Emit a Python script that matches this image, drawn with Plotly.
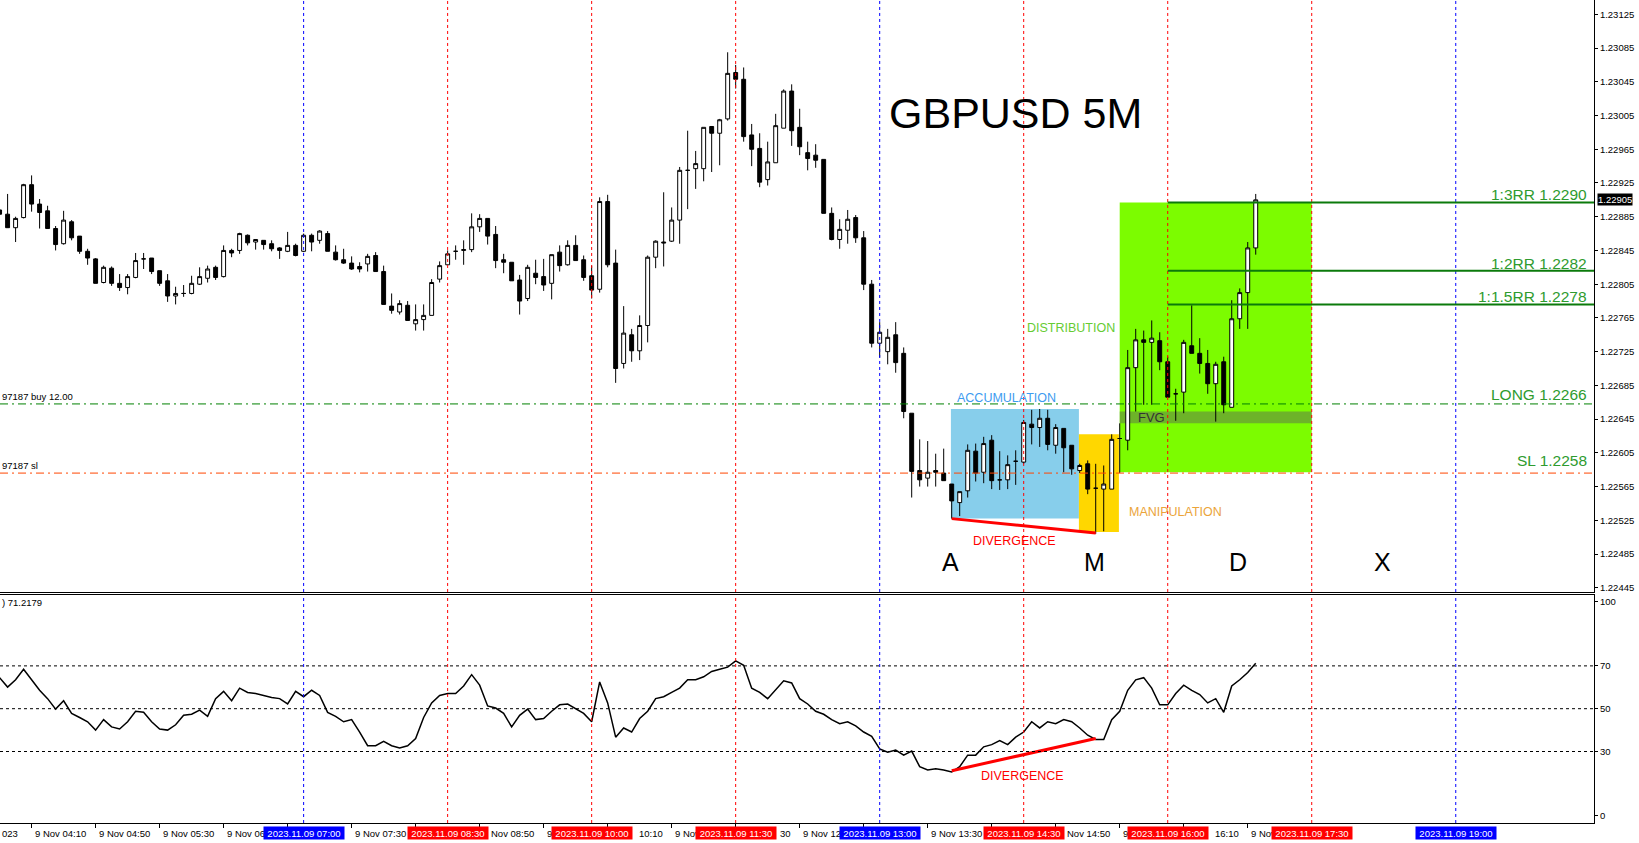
import plotly.graph_objects as go
import pandas as pd

# ---------------- data (GBPUSD M5, 9 Nov 2023, 03:50 .. 16:55) ----------------
opens = [
    1.22893, 1.22888, 1.22872, 1.22884, 1.22923, 1.22900, 1.22892, 1.22871, 1.22853, 1.22879,
    1.22862, 1.22844, 1.22835, 1.22807, 1.22824, 1.22806, 1.22801, 1.22813, 1.22835, 1.22836,
    1.22821, 1.22809, 1.22791, 1.22794, 1.22794, 1.22805, 1.22812, 1.22825, 1.22814, 1.22845,
    1.22845, 1.22863, 1.22855, 1.22857, 1.22853, 1.22848, 1.22844, 1.22851,
    1.22844, 1.22863, 1.22857, 1.22865, 1.22843, 1.22834, 1.22830, 1.22826, 1.22829, 1.22839,
    1.22820, 1.22779, 1.22772, 1.22780, 1.22758, 1.22763, 1.22768, 1.22811, 1.22828, 1.22844,
    1.22845, 1.22846, 1.22873, 1.22883, 1.22864, 1.22834, 1.22831, 1.22810, 1.22788, 1.22818,
    1.22814, 1.22806, 1.22843, 1.22828, 1.22851, 1.22834, 1.22815, 1.22799, 1.22903, 1.22830,
    1.22711, 1.22745, 1.22726, 1.22756, 1.22837, 1.22855, 1.22856, 1.22881, 1.22940, 1.22942,
    1.22942, 1.22992, 1.22984, 1.23001, 1.23056, 1.23048, 1.22982, 1.22966, 1.22929, 1.22949,
    1.22990, 1.23034, 1.22991, 1.22961, 1.22958, 1.22953, 1.22889, 1.22858, 1.22869, 1.22884,
    1.22860, 1.22805, 1.22735, 1.22725, 1.22745, 1.22723, 1.22652, 1.22584, 1.22575, 1.22584,
    1.22581, 1.22568, 1.22546, 1.22560, 1.22607, 1.22582, 1.22620, 1.22573, 1.22573, 1.22595,
    1.22594, 1.22639, 1.22635, 1.22646, 1.22614, 1.22634, 1.22614, 1.22584, 1.22592, 1.22563,
    1.22562, 1.22562, 1.22622, 1.22620, 1.22706, 1.22739, 1.22736, 1.22738, 1.22713, 1.22675,
    1.22677, 1.22732, 1.22723, 1.22711, 1.22687, 1.22713, 1.22659, 1.22764, 1.22795, 1.22848,
]
highs = [
    1.22894, 1.22912, 1.22885, 1.22924, 1.22934, 1.22906, 1.22898, 1.22874, 1.22892, 1.22881,
    1.22862, 1.22847, 1.22836, 1.22827, 1.22826, 1.22817, 1.22817, 1.22842, 1.22842, 1.22836,
    1.22821, 1.22817, 1.22802, 1.22804, 1.22815, 1.22825, 1.22827, 1.22827, 1.22851, 1.22847,
    1.22866, 1.22864, 1.22858, 1.22857, 1.22857, 1.22849, 1.22867, 1.22853,
    1.22865, 1.22865, 1.22869, 1.22868, 1.22851, 1.22847, 1.22838, 1.22831, 1.22841, 1.22843,
    1.22827, 1.22794, 1.22786, 1.22785, 1.22781, 1.22781, 1.22811, 1.22832, 1.22845, 1.22851,
    1.22857, 1.22889, 1.22888, 1.22883, 1.22874, 1.22841, 1.22831, 1.22816, 1.22828, 1.22834,
    1.22835, 1.22840, 1.22851, 1.22857, 1.22863, 1.22839, 1.22827, 1.22908, 1.22911, 1.22846,
    1.22779, 1.22752, 1.22768, 1.22839, 1.22857, 1.22914, 1.22896, 1.22944, 1.22987, 1.22963,
    1.22991, 1.22992, 1.23001, 1.23080, 1.23065, 1.23062, 1.22995, 1.22984, 1.22974, 1.23007,
    1.23036, 1.23042, 1.23013, 1.22974, 1.22971, 1.22953, 1.22896, 1.22882, 1.22893, 1.22887,
    1.22868, 1.22810, 1.22760, 1.22752, 1.22760, 1.22730, 1.22652, 1.22621, 1.22619, 1.22604,
    1.22610, 1.22568, 1.22559, 1.22615, 1.22616, 1.22624, 1.22626, 1.22607, 1.22602, 1.22608,
    1.22644, 1.22656, 1.22657, 1.22656, 1.22639, 1.22634, 1.22614, 1.22592, 1.22596, 1.22592,
    1.22590, 1.22627, 1.22640, 1.22727, 1.22752, 1.22750, 1.22762, 1.22748, 1.22719, 1.22681,
    1.22739, 1.22780, 1.22741, 1.22727, 1.22713, 1.22719, 1.22786, 1.22800, 1.22855, 1.22912,
]
lows = [
    1.22887, 1.22872, 1.22855, 1.22883, 1.22891, 1.22871, 1.22871, 1.22845, 1.22852, 1.22857,
    1.22841, 1.22828, 1.22806, 1.22806, 1.22803, 1.22797, 1.22793, 1.22812, 1.22823, 1.22817,
    1.22803, 1.22784, 1.22781, 1.22790, 1.22793, 1.22804, 1.22807, 1.22810, 1.22813, 1.22837,
    1.22841, 1.22851, 1.22846, 1.22846, 1.22844, 1.22835, 1.22843, 1.22838,
    1.22843, 1.22844, 1.22853, 1.22844, 1.22833, 1.22829, 1.22822, 1.22819, 1.22820, 1.22820,
    1.22781, 1.22770, 1.22769, 1.22762, 1.22750, 1.22750, 1.22768, 1.22807, 1.22828, 1.22834,
    1.22828, 1.22843, 1.22867, 1.22852, 1.22824, 1.22818, 1.22809, 1.22769, 1.22785, 1.22805,
    1.22797, 1.22787, 1.22820, 1.22827, 1.22833, 1.22809, 1.22788, 1.22795, 1.22825, 1.22688,
    1.22705, 1.22713, 1.22715, 1.22736, 1.22824, 1.22826, 1.22855, 1.22853, 1.22894, 1.22918,
    1.22927, 1.22938, 1.22946, 1.22999, 1.23037, 1.22974, 1.22945, 1.22920, 1.22922, 1.22949,
    1.22990, 1.22969, 1.22958, 1.22940, 1.22943, 1.22889, 1.22857, 1.22847, 1.22853, 1.22854,
    1.22798, 1.22730, 1.22718, 1.22710, 1.22700, 1.22646, 1.22552, 1.22565, 1.22565, 1.22565,
    1.22572, 1.22527, 1.22530, 1.22552, 1.22571, 1.22569, 1.22562, 1.22561, 1.22562, 1.22567,
    1.22592, 1.22615, 1.22612, 1.22608, 1.22604, 1.22582, 1.22579, 1.22581, 1.22556, 1.22509,
    1.22512, 1.22562, 1.22581, 1.22608, 1.22654, 1.22662, 1.22662, 1.22703, 1.22671, 1.22643,
    1.22652, 1.22723, 1.22699, 1.22675, 1.22642, 1.22652, 1.22659, 1.22752, 1.22752, 1.22840,
]
closes = [
    1.22888, 1.22872, 1.22883, 1.22923, 1.22900, 1.22890, 1.22871, 1.22852, 1.22881, 1.22860,
    1.22844, 1.22836, 1.22806, 1.22825, 1.22806, 1.22801, 1.22814, 1.22833, 1.22835, 1.22820,
    1.22806, 1.22791, 1.22794, 1.22794, 1.22806, 1.22814, 1.22823, 1.22813, 1.22845, 1.22842,
    1.22865, 1.22854, 1.22858, 1.22852, 1.22847, 1.22845, 1.22851, 1.22839,
    1.22863, 1.22855, 1.22868, 1.22844, 1.22834, 1.22830, 1.22823, 1.22823, 1.22838, 1.22820,
    1.22781, 1.22774, 1.22782, 1.22762, 1.22763, 1.22768, 1.22807, 1.22827, 1.22841, 1.22844,
    1.22846, 1.22873, 1.22883, 1.22862, 1.22833, 1.22831, 1.22809, 1.22785, 1.22825, 1.22813,
    1.22804, 1.22840, 1.22827, 1.22851, 1.22833, 1.22813, 1.22798, 1.22903, 1.22828, 1.22705,
    1.22747, 1.22726, 1.22756, 1.22837, 1.22856, 1.22854, 1.22881, 1.22940, 1.22940, 1.22948,
    1.22991, 1.22984, 1.23000, 1.23055, 1.23048, 1.22980, 1.22965, 1.22926, 1.22950, 1.22993,
    1.23034, 1.22987, 1.22968, 1.22954, 1.22952, 1.22889, 1.22858, 1.22870, 1.22882, 1.22860,
    1.22805, 1.22735, 1.22748, 1.22742, 1.22712, 1.22654, 1.22583, 1.22573, 1.22582, 1.22582,
    1.22572, 1.22548, 1.22559, 1.22608, 1.22581, 1.22616, 1.22572, 1.22573, 1.22591, 1.22595,
    1.22641, 1.22635, 1.22646, 1.22615, 1.22635, 1.22611, 1.22586, 1.22590, 1.22562, 1.22563,
    1.22568, 1.22621, 1.22622, 1.22706, 1.22739, 1.22736, 1.22741, 1.22713, 1.22671, 1.22675,
    1.22736, 1.22723, 1.22711, 1.22687, 1.22710, 1.22662, 1.22764, 1.22795, 1.22848, 1.22905,
]
rsi_values = [
    64.5, 60.1, 63.5, 68.4, 63.5, 58.6, 54.7, 49.8, 53.7, 47.8,
    45.9, 43.9, 40.0, 44.9, 41.5, 40.5, 43.9, 48.8, 48.3, 43.9,
    40.5, 40.0, 42.5, 46.9, 47.4, 49.3, 46.4, 54.7, 58.1, 53.7,
    59.6, 57.6, 57.1, 56.2, 55.2, 54.7, 52.2, 58.1, 55.6, 58.6,
    56.2, 48.3, 46.4, 43.9, 44.9, 39.1, 32.7, 32.7, 34.7, 32.7,
    31.7, 32.7, 36.1, 45.9, 52.7, 56.2, 57.1, 57.1, 60.6, 65.9,
    61.0, 51.3, 50.3, 47.8, 41.5, 46.9, 49.8, 44.9, 45.4, 48.8,
    51.8, 52.2, 49.8, 47.8, 43.9, 62.5, 52.7, 36.7, 41.0, 39.1,
    45.4, 48.8, 54.7, 55.6, 57.6, 59.6, 63.5, 63.5, 64.9, 67.4,
    68.4, 69.4, 72.3, 70.3, 59.6, 57.6, 54.7, 58.6, 63.0, 62.0,
    54.7, 52.2, 48.8, 47.4, 44.9, 43.0, 43.9, 42.0, 39.1, 37.1,
    31.2, 29.7, 30.7, 28.3, 30.2, 22.9, 21.4, 21.9, 21.4, 20.4,
    22.9, 28.3, 28.3, 32.2, 33.2, 35.1, 33.2, 36.7, 39.1, 43.9,
    41.0, 43.9, 43.0, 44.9, 43.9, 41.0, 37.6, 35.6, 35.6, 44.9,
    48.8, 58.6, 63.5, 64.5, 59.6, 51.8, 51.8, 57.1, 61.0, 58.6,
    56.6, 52.7, 54.7, 48.3, 60.6, 63.5, 66.9, 71.2,
]
times = pd.date_range("2023-11-09 03:50", periods=len(closes), freq="5min")

price_ticks = [1.22445, 1.22485, 1.22525, 1.22565, 1.22605, 1.22645, 1.22685, 1.22725, 1.22765,
               1.22805, 1.22845, 1.22885, 1.22925, 1.22965, 1.23005, 1.23045, 1.23085, 1.23125]
price_tick_text = ["1.22445", "1.22485", "1.22525", "1.22565", "1.22605", "1.22645", "1.22685",
                   "1.22725", "1.22765", "1.22805", "1.22845", "1.22885", "1.22925", "1.22965",
                   "1.23005", "1.23045", "1.23085", "1.23125"]
rsi_ticks = [0, 30, 50, 70, 100]
rsi_levels = [30, 50, 70]

last_price = 1.22905
long_price = 1.22663
sl_price = 1.22581
rr_levels = [("1:3RR 1.2290", 1.22902), ("1:2RR 1.2282", 1.22821), ("1:1.5RR 1.2278", 1.22781)]

day = "2023-11-09 "
x_range = [day + "03:50:15", day + "20:26:24"]
blue_times = ["07:00", "13:00", "19:00"]
red_times = ["08:30", "10:00", "11:30", "14:30", "16:00", "17:30"]
tick_times = ["04:10", "04:50", "05:30", "06:10", "06:50", "07:30", "08:10", "08:50",
              "09:30", "10:10", "10:50", "11:30", "12:10", "12:50", "13:30", "14:10",
              "14:50", "15:30", "16:10", "16:50"]
# time labels: (visible text, tick time, shift of the visible part from the tick in px)
time_labels = [("9 Nov 04:10", "04:10", 1), ("9 Nov 04:50", "04:50", 1), ("9 Nov 05:30", "05:30", 1),
               ("9 Nov 06:", "06:10", 1), ("9 Nov 07:30", "07:30", 1), ("Nov 08:50", "08:50", 9),
               ("9", "09:30", 1), ("10:10", "10:10", 29), ("9 Nov", "10:50", 1), ("30", "11:30", 42),
               ("9 Nov 12:", "12:10", 1), ("9 Nov 13:30", "13:30", 1), ("Nov 14:50", "14:50", 9),
               ("9", "15:30", 1), ("16:10", "16:10", 29), ("9 Nov", "16:50", 1)]

FONT = "Arial, Liberation Sans, sans-serif"
LBL = 9.5

fig = go.Figure()
fig.add_trace(go.Candlestick(
    x=times, open=opens, high=highs, low=lows, close=closes,
    xaxis="x", yaxis="y", whiskerwidth=0,
    increasing=dict(line=dict(color="black", width=1), fillcolor="white"),
    decreasing=dict(line=dict(color="black", width=1), fillcolor="black"),
    showlegend=False, hoverinfo="skip"))
fig.add_trace(go.Scatter(
    x=times, y=rsi_values, xaxis="x2", yaxis="y2", mode="lines",
    line=dict(color="black", width=1.5), showlegend=False, hoverinfo="skip"))

shapes = []
shapes.append(dict(type="rect", xref="x", yref="y", x0=day + "15:30", x1=day + "17:30",
                   y0=1.22582, y1=1.22902, fillcolor="#7CFC00", line=dict(width=0), layer="below"))
shapes.append(dict(type="rect", xref="x", yref="y", x0=day + "15:30", x1=day + "17:30",
                   y0=1.22640, y1=1.22654, fillcolor="rgba(90,90,90,0.45)", line=dict(width=0), layer="below"))
shapes.append(dict(type="rect", xref="x", yref="y", x0=day + "13:44:30", x1=day + "15:04:30",
                   y0=1.22527, y1=1.22657, fillcolor="#87CEEB", line=dict(width=0), layer="below"))
shapes.append(dict(type="rect", xref="x", yref="y", x0=day + "15:04:30", x1=day + "15:29:30",
                   y0=1.22511, y1=1.22627, fillcolor="#FFD700", line=dict(width=0), layer="below"))

for tlist, col in ((blue_times, "#0000FF"), (red_times, "#FF0000")):
    for t in tlist:
        for xr, yr in (("x", "y domain"), ("x2", "y2 domain")):
            shapes.append(dict(type="line", xref=xr, yref=yr, x0=day + t, x1=day + t, y0=0, y1=1,
                               line=dict(color=col, width=1, dash="3px,3px"), layer="above"))

shapes.append(dict(type="line", xref="x domain", yref="y", x0=0, x1=1, y0=long_price, y1=long_price,
                   line=dict(color="#008000", width=1, dash="8px,4px,2px,4px"), layer="above"))
shapes.append(dict(type="line", xref="x domain", yref="y", x0=0, x1=1, y0=sl_price, y1=sl_price,
                   line=dict(color="#FF4500", width=1, dash="8px,4px,2px,4px"), layer="above"))
for _, lvl in rr_levels:
    shapes.append(dict(type="line", xref="x", yref="y", x0=day + "16:00", x1=x_range[1], y0=lvl, y1=lvl,
                       line=dict(color="#0B7A0B", width=2), layer="above"))

shapes.append(dict(type="line", xref="x", yref="y", x0=day + "13:45", x1=day + "15:15",
                   y0=1.22527, y1=1.22510, line=dict(color="#FF0000", width=3), layer="above"))
shapes.append(dict(type="line", xref="x2", yref="y2", x0=day + "13:45", x1=day + "15:15",
                   y0=21.0, y1=36.1, line=dict(color="#FF0000", width=3), layer="above"))

for lv in rsi_levels:
    shapes.append(dict(type="line", xref="x2 domain", yref="y2", x0=0, x1=1, y0=lv, y1=lv,
                       line=dict(color="black", width=1, dash="3px,3px"), layer="above"))

ann = []
def txt(text, x, y, size, color, xref="x", yref="y", **kw):
    d = dict(text=text, x=x, y=y, xref=xref, yref=yref, showarrow=False,
             font=dict(family=FONT, size=size, color=color))
    d.update(kw)
    ann.append(d)

txt("GBPUSD 5M", day + "14:24:40", 1.23008, 43, "black")
txt("DISTRIBUTION", day + "14:59:40", 1.22753, 12.5, "#66CC33")
txt("ACCUMULATION", day + "14:19:30", 1.22670, 12.5, "#3D9BF0")
txt("MANIPULATION", day + "16:05", 1.22535, 12.5, "#EBA43A")
txt("DIVERGENCE", day + "14:24:30", 1.22501, 12.5, "#FF0000")
txt("FVG", day + "15:50", 1.22647, 13, "#333333")
for letter, t in (("A", "13:44"), ("M", "15:14"), ("D", "16:43:45"), ("X", "18:14:30")):
    txt(letter, day + t, 1.22476, 25, "black")
txt("DIVERGENCE", day + "14:29:30", 18.6, 12.5, "#FF0000", xref="x2", yref="y2")

for label, lvl in rr_levels:
    txt(label, 1, lvl, 15.5, "#2E9B2E", xref="paper", xanchor="right", yanchor="bottom", xshift=-5, yshift=-3)
txt("LONG 1.2266", 1, long_price, 15.5, "#2E9B2E", xref="paper", xanchor="right", yanchor="bottom", xshift=-5, yshift=-1)
txt("SL 1.2258", 1, sl_price, 15.5, "#2E9B2E", xref="paper", xanchor="right", yanchor="bottom", xshift=-5, yshift=2)

txt("97187 buy 12.00", 0, long_price, 9.5, "black", xref="paper", xanchor="left", yanchor="bottom")
txt("97187 sl", 0, sl_price, 9.5, "black", xref="paper", xanchor="left", yanchor="bottom")
txt(") 71.2179", 0, 99.4, 9.5, "black", xref="paper", yref="y2", xanchor="left", yanchor="middle")

txt("1.22905", 1, last_price, 9.5, "white", xref="paper", xanchor="left", xshift=3,
    bgcolor="black", borderpad=0)

# bottom time labels
label_y = -0.0122
txt("023", 0, label_y, LBL, "black", xref="paper", yref="paper", xanchor="left", yanchor="middle")
for text, t, sh in time_labels:
    txt(text, day + t, label_y, LBL, "black", xref="x2", yref="paper",
        xanchor="left", yanchor="middle", xshift=sh)
for tlist, col in ((blue_times, "#0000FF"), (red_times, "#FF0000")):
    for t in tlist:
        txt("2023.11.09 " + t, day + t, label_y, LBL, "white", xref="x2", yref="paper",
            xanchor="center", yanchor="middle", bgcolor=col, borderpad=0, width=80, height=12)

axis_font = dict(family=FONT, size=9.5, color="black")
fig.update_layout(
    width=1639, height=843, margin=dict(l=0, r=45, t=0, b=20),
    paper_bgcolor="white", plot_bgcolor="white", showlegend=False, hovermode=False,
    shapes=shapes, annotations=ann,
    xaxis=dict(domain=[0, 1], anchor="y", type="date", range=x_range, rangeslider=dict(visible=False),
               showticklabels=False, ticks="", showgrid=False, zeroline=False,
               showline=True, linecolor="black", linewidth=1),
    yaxis=dict(domain=[0.2807, 1], anchor="x", side="right", range=[1.22440, 1.23142],
               tickmode="array", tickvals=price_ticks, ticktext=price_tick_text,
               ticks="outside", ticklen=3, tickcolor="black", tickfont=axis_font,
               showgrid=False, zeroline=False, showline=True, linecolor="black", linewidth=1,
               automargin=False),
    xaxis2=dict(domain=[0, 1], anchor="y2", type="date", range=x_range, matches="x",
                tickmode="array", tickvals=[day + t for t in tick_times],
                showticklabels=False, ticks="outside", ticklen=4, tickcolor="black",
                showgrid=False, zeroline=False, showline=True, mirror=True,
                linecolor="black", linewidth=1),
    yaxis2=dict(domain=[0, 0.2770], anchor="x2", side="right", range=[-3.4, 103.1],
                tickmode="array", tickvals=rsi_ticks, ticks="outside", ticklen=3, tickcolor="black",
                tickfont=axis_font, showgrid=False, zeroline=False, showline=True,
                linecolor="black", linewidth=1, automargin=False),
)
fig.write_html("out.html", config={"displayModeBar": False},
               post_script="document.body.style.margin='0';document.body.style.overflow='hidden';")
